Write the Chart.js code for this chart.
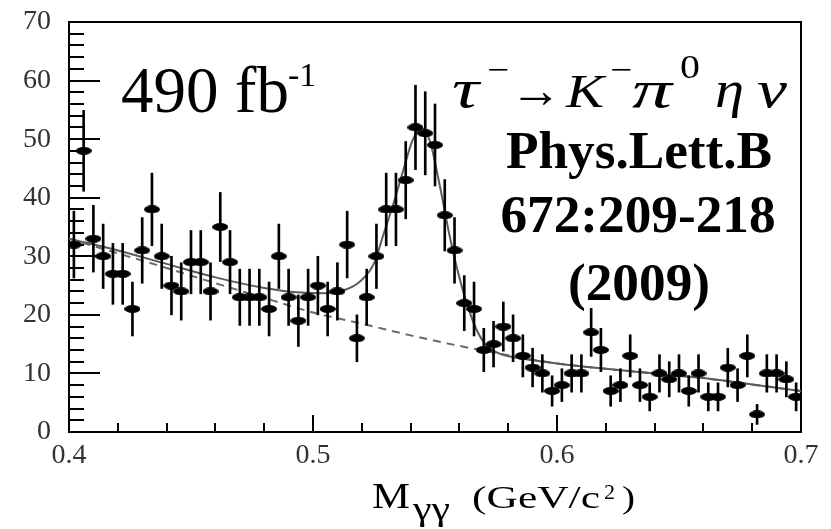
<!DOCTYPE html>
<html>
<head>
<meta charset="utf-8">
<title>M gamma gamma spectrum</title>
<script src="https://cdn.jsdelivr.net/npm/chart.js@4.4.0/dist/chart.umd.min.js"></script>
<style>
  body { margin: 0; background: #fff; }
  #wrap { position: relative; width: 831px; height: 529px; overflow: hidden; }
  #wrap canvas, #wrap svg { position: absolute; left: 0; top: 0; }
  #wrap svg { pointer-events: none; font-family: "Liberation Serif", "Times New Roman", serif; }
</style>
</head>
<body>
<div id="wrap">
  <canvas id="massChart" width="831" height="529"></canvas>
  <svg width="831" height="529" viewBox="0 0 831 529">
    <text x="121" y="112" font-size="65" font-family="Liberation Serif">490 fb</text>
    <text x="288" y="86" font-size="34" font-family="Liberation Serif">-1</text>

    <text x="452" y="107" font-size="54" font-style="italic" textLength="27" lengthAdjust="spacingAndGlyphs">τ</text>
    <text x="487" y="81" font-size="34" textLength="22" lengthAdjust="spacingAndGlyphs">−</text>
    <text x="510" y="107" font-size="50" textLength="52" lengthAdjust="spacingAndGlyphs">→</text>
    <text x="566" y="107" font-size="46" font-style="italic" textLength="38" lengthAdjust="spacingAndGlyphs">K</text>
    <text x="610" y="81" font-size="34" textLength="22" lengthAdjust="spacingAndGlyphs">−</text>
    <text x="632" y="107" font-size="52" font-style="italic" textLength="40" lengthAdjust="spacingAndGlyphs">π</text>
    <text x="680" y="78" font-size="34" textLength="20" lengthAdjust="spacingAndGlyphs">0</text>
    <text x="715" y="107" font-size="52" font-style="italic" textLength="29" lengthAdjust="spacingAndGlyphs">η</text>
    <text x="757" y="107" font-size="52" font-style="italic" textLength="30" lengthAdjust="spacingAndGlyphs">ν</text>

    <text x="639" y="168" font-size="52" font-weight="bold" text-anchor="middle" textLength="266" lengthAdjust="spacingAndGlyphs">Phys.Lett.B</text>
    <text x="638" y="232" font-size="52" font-weight="bold" text-anchor="middle" textLength="275" lengthAdjust="spacingAndGlyphs">672:209-218</text>
    <text x="639" y="300" font-size="52" font-weight="bold" text-anchor="middle" textLength="142" lengthAdjust="spacingAndGlyphs">(2009)</text>

    <text x="372" y="508" font-size="35" textLength="38" lengthAdjust="spacingAndGlyphs">M</text>
    <text x="413" y="520" font-size="33" textLength="37" lengthAdjust="spacingAndGlyphs">γγ</text>
    <text x="472" y="508" font-size="31" textLength="128" lengthAdjust="spacingAndGlyphs">(GeV/c</text>
    <text x="604" y="499" font-size="22" textLength="11" lengthAdjust="spacingAndGlyphs">2</text>
    <text x="622" y="508" font-size="31" textLength="13" lengthAdjust="spacingAndGlyphs">)</text>
  </svg>
</div>

<script>
// bin centres of the M(gamma gamma) histogram (GeV/c^2)
const binCenters = [
  0.402, 0.406, 0.410, 0.414, 0.418, 0.422, 0.426, 0.430, 0.434, 0.438,
  0.442, 0.446, 0.450, 0.454, 0.458, 0.462, 0.466, 0.470, 0.474, 0.478,
  0.482, 0.486, 0.490, 0.494, 0.498, 0.502, 0.506, 0.510, 0.514, 0.518,
  0.522, 0.526, 0.530, 0.534, 0.538, 0.542, 0.546, 0.550, 0.554, 0.558,
  0.562, 0.566, 0.570, 0.574, 0.578, 0.582, 0.586, 0.590, 0.594, 0.598,
  0.602, 0.606, 0.610, 0.614, 0.618, 0.622, 0.626, 0.630, 0.634, 0.638,
  0.642, 0.646, 0.650, 0.654, 0.658, 0.662, 0.666, 0.670, 0.674, 0.678,
  0.682, 0.686, 0.690, 0.694, 0.698
];

// events per bin
const counts = [
  32, 48, 33, 30, 27, 27, 21, 31, 38, 30,
  25, 24, 29, 29, 24, 35, 29, 23, 23, 23,
  21, 30, 23, 19, 23, 25, 21, 24, 32, 16,
  23, 30, 38, 38, 43, 52, 51, 49, 37, 31,
  22, 21, 14, 15, 18, 16, 13, 11, 10, 7,
  8, 10, 10, 17, 14, 7, 8, 13, 8, 6,
  10, 9, 10, 7, 10, 6, 6, 11, 8, 13,
  3, 10, 10, 9, 6
];

// statistical errors (half length of the error bars)
const errors = [
  5.7, 6.9, 5.7, 5.5, 5.2, 5.2, 4.6, 5.6, 6.2, 5.5,
  5.0, 4.9, 5.4, 5.4, 4.9, 5.9, 5.4, 4.8, 4.8, 4.8,
  4.6, 5.5, 4.8, 4.4, 4.8, 5.0, 4.6, 4.9, 5.7, 4.0,
  4.8, 5.5, 6.2, 6.2, 6.6, 7.2, 7.1, 7.0, 6.1, 5.6,
  4.7, 4.6, 3.7, 3.9, 4.2, 4.0, 3.6, 3.3, 3.2, 2.6,
  2.8, 3.2, 3.2, 4.1, 3.7, 2.6, 2.8, 3.6, 2.8, 2.4,
  3.2, 3.0, 3.2, 2.6, 3.2, 2.4, 2.4, 3.3, 2.8, 3.6,
  1.7, 3.2, 3.2, 3.0, 2.4
];

// fit: signal + background (solid)
const fitX = [0.400, 0.420, 0.440, 0.460, 0.480, 0.495, 0.505, 0.512, 0.519, 0.525,
              0.529, 0.533, 0.537, 0.541, 0.545, 0.548, 0.552, 0.5555, 0.559, 0.563,
              0.567, 0.571, 0.577, 0.585, 0.600, 0.620, 0.640, 0.660, 0.680, 0.700];
const fitTotal = [33.0, 31.0, 28.7, 26.4, 24.6, 23.8, 23.7, 24.1, 25.6, 28.8,
                  33.9, 39.0, 44.7, 50.0, 51.8, 49.5, 42.0, 34.5, 28.0, 22.0,
                  17.5, 14.8, 13.3, 12.6, 11.7, 10.8, 10.0, 9.2, 8.1, 7.0];

// fit: background only (dashed)
const bgX = [0.40, 0.42, 0.44, 0.46, 0.48, 0.50, 0.52, 0.54, 0.56, 0.58, 0.60, 0.62, 0.64, 0.66, 0.68, 0.70];
const fitBg = [33.0, 30.5, 28.0, 25.4, 22.9, 20.4, 18.5, 16.5, 14.7, 13.1, 11.7, 10.8, 10.0, 9.2, 8.1, 7.0];

const xTickLabels = ['0.4', '0.5', '0.6', '0.7'];

// black ellipse used as the data marker
function ellipseMarker(w, h) {
    const c = document.createElement('canvas');
    c.width = w;
    c.height = h;
    const g = c.getContext('2d');
    g.fillStyle = '#000';
    g.beginPath();
    g.ellipse(w / 2, h / 2, w / 2, h / 2, 0, 0, Math.PI * 2);
    g.fill();
    return c;
}

// frame + inward ticks (left and bottom only, like the original)
const frameTicks = {
    id: 'frameTicks',
    beforeDatasetsDraw(chart) {
        const { ctx, chartArea: a, scales: { x, y } } = chart;
        ctx.save();
        ctx.strokeStyle = '#000';
        ctx.lineWidth = 2;
        ctx.beginPath();
        for (let v = 0; v <= 70; v += 2) {
            const py = Math.round(y.getPixelForValue(v));
            const len = v % 10 === 0 ? 31 : 15;
            ctx.moveTo(a.left, py);
            ctx.lineTo(a.left + len, py);
        }
        for (let i = 0; i <= 15; i++) {
            const px = Math.round(x.getPixelForValue(0.4 + i * 0.02));
            const len = i % 5 === 0 ? 17 : 9;
            ctx.moveTo(px, a.bottom);
            ctx.lineTo(px, a.bottom - len);
        }
        ctx.stroke();
        ctx.strokeRect(a.left, a.top, a.right - a.left, a.bottom - a.top);
        ctx.restore();
    }
};

const ctx = document.getElementById('massChart').getContext('2d');

new Chart(ctx, {
    type: 'scatter',
    data: {
        datasets: [
            {
                type: 'scatter',
                data: binCenters.map((x, i) => ({ x: x, y: counts[i] })),
                pointStyle: ellipseMarker(16, 8),
                pointRadius: 8,
                order: 0
            },
            {
                type: 'bar',
                data: binCenters.map((x, i) => ({ x: x, y: [counts[i] - errors[i], counts[i] + errors[i]] })),
                backgroundColor: '#000',
                barThickness: 2,
                borderWidth: 0,
                order: 1
            },
            {
                type: 'line',
                data: fitX.map((x, i) => ({ x: x, y: fitTotal[i] })),
                borderColor: '#5a5a5a',
                borderWidth: 2,
                pointRadius: 0,
                cubicInterpolationMode: 'monotone',
                order: 2
            },
            {
                type: 'line',
                data: bgX.map((x, i) => ({ x: x, y: fitBg[i] })),
                borderColor: '#6a6a6a',
                borderWidth: 2,
                borderDash: [8, 6],
                pointRadius: 0,
                cubicInterpolationMode: 'monotone',
                order: 3
            }
        ]
    },
    options: {
        responsive: false,
        animation: false,
        layout: { padding: { top: 22, right: 30, left: 0, bottom: 0 } },
        plugins: {
            legend: { display: false },
            tooltip: { enabled: false }
        },
        scales: {
            x: {
                type: 'linear',
                min: 0.4,
                max: 0.7,
                offset: false,
                grid: { display: false, drawTicks: false },
                border: { display: false },
                ticks: {
                    stepSize: 0.1,
                    padding: 7,
                    color: '#333',
                    font: { family: 'Liberation Serif', size: 28 },
                    maxRotation: 0,
                    callback: (v) => {
                        const i = Math.round((v - 0.4) * 10);
                        return xTickLabels[i];
                    }
                },
                afterFit: (scale) => {
                    scale.height = 97;
                    scale.paddingLeft = 0;
                    scale.paddingRight = 0;
                }
            },
            y: {
                min: 0,
                max: 70,
                grid: { display: false, drawTicks: false },
                border: { display: false },
                ticks: {
                    stepSize: 10,
                    padding: 18,
                    color: '#333',
                    font: { family: 'Liberation Serif', size: 28 }
                },
                afterFit: (scale) => {
                    scale.width = 69;
                    scale.paddingTop = 0;
                    scale.paddingBottom = 0;
                }
            }
        }
    },
    plugins: [frameTicks]
});
</script>
</body>
</html>
